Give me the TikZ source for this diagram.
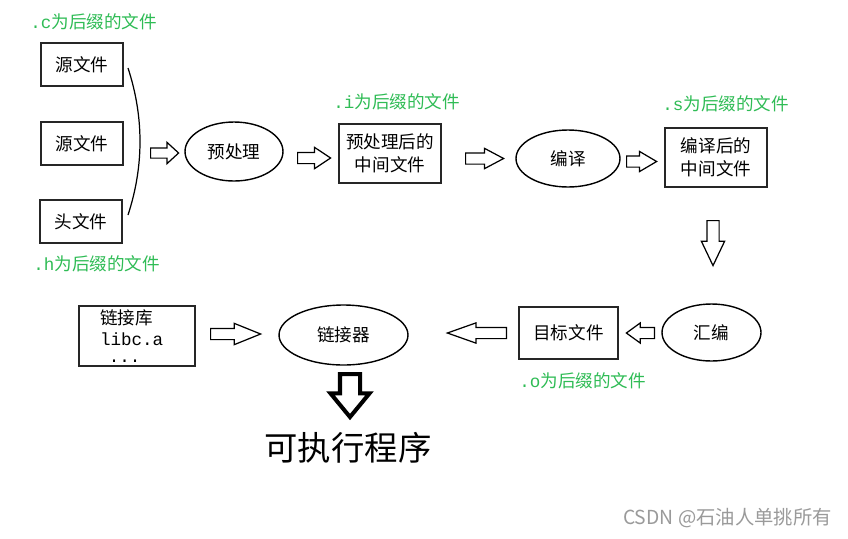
\documentclass[tikz,border=0pt]{standalone}
\usepackage{fontspec}
\setmainfont{Noto Sans CJK SC}
\setmonofont{Liberation Mono}
\usetikzlibrary{shapes.geometric,shapes.arrows,positioning,calc}
\definecolor{clrTag}{HTML}{2FBC55}
\definecolor{clrMark}{HTML}{9A9A9A}
\tikzset{
  filebox/.style={rectangle, draw=black!85, line width=1pt, align=center,
    inner sep=2pt, font=\fontsize{10}{13}\selectfont},
  stage/.style={ellipse, draw=black, line width=0.8pt, inner sep=0pt,
    font=\fontsize{10}{12}\selectfont},
  tag/.style={anchor=west, inner sep=0pt, text=clrTag,
    font=\fontsize{10}{12}\selectfont},
  hollow/.style={single arrow, draw=black, line width=0.7pt, fill=white,
    anchor=tail, inner xsep=0pt, single arrow head indent=0pt},
  vhollow/.style={hollow, shape border rotate=270, inner ysep=0pt},
}

\begin{document}
\begin{tikzpicture}[x=0.02cm, y=-0.02cm]
\useasboundingbox[fill=white] (0,0) rectangle (848,538);

% -- Quelldateien -----------------------------------------------------------
\node[filebox, minimum width=1.64cm, minimum height=0.86cm] (src1) at (82,64.5) {源文件};
\node[filebox, minimum width=1.64cm, minimum height=0.86cm] (src2) at (82,143.5) {源文件};
\node[filebox, minimum width=1.64cm, minimum height=0.86cm] (hdr) at (81,221.5) {头文件};
\node[tag] (tagC) at (30,22) {\texttt{.c}为后缀的文件};
\node[tag] (tagH) at (33,264) {\texttt{.h}为后缀的文件};

\coordinate (brTop) at (128,68);
\coordinate (brBot) at (128,215);
\draw[line width=0.7pt] (brTop) .. controls (144,117) and (144,166) .. (brBot);

% -- obere Reihe --------------------------------------------------------------
\node[stage, minimum width=1.96cm, minimum height=1.18cm] (pre) at (234,151.5) {预处理};
\node[filebox, minimum width=2.04cm, minimum height=1.18cm] (mid1) at (390,153.5)
  {预处理后的\\中间文件};
\node[tag] (tagI) at (333,102) {\texttt{.i}为后缀的文件};
\node[stage, minimum width=2.08cm, minimum height=1.14cm] (comp) at (568,158.5) {编译};
\node[filebox, minimum width=2.04cm, minimum height=1.18cm] (mid2) at (716,157.5)
  {编译后的\\中间文件};
\node[tag] (tagS) at (662,104) {\texttt{.s}为后缀的文件};

% -- untere Reihe -------------------------------------------------------------
\node[stage, minimum width=1.98cm, minimum height=1.14cm] (asm) at (711.5,332.5) {汇编};
\node[filebox, minimum width=1.98cm, minimum height=1.04cm] (obj) at (568.5,333) {目标文件};
\node[tag] (tagO) at (519,381) {\texttt{.o}为后缀的文件};
\node[stage, minimum width=2.58cm, minimum height=1.2cm] (link) at (343.5,335) {链接器};
\node[filebox, minimum width=2.32cm, minimum height=1.16cm, align=left,
  text width=1.48cm, inner xsep=0.42cm] (lib) at (137,336)
  {链接库\\[-1pt]\texttt{libc.a}\\[-3pt]\hspace*{5pt}\texttt{...}};
\node[font=\fontsize{19}{22}\selectfont, inner sep=0pt] (exe) at (348,448) {可执行程序};

% -- Blockpfeile: Name/x/y/Drehung/Laenge/Schaft/Kopfueberstand/Spitzenwinkel
\foreach \nm/\x/\y/\rot/\len/\sh/\ext/\ang in {
    a1/150/153/0/28/9/5.5/85,
    a2/297/158/0/33/10/5/67,
    a3/465/158.5/0/38/10/4.5/56,
    a4/626/161.5/0/30/10/4.5/61,
    a6/655/333/180/28/10/4.5/72,
    a7/507/333/180/59/10/4.5/39,
    a8/210/334/0/50/10/5/44}{
  \node[hollow, shape border rotate=\rot, minimum height=\len*0.02cm,
    inner ysep=\sh*0.01cm, single arrow head extend=\ext*0.02cm,
    single arrow tip angle=\ang] (\nm) at (\x,\y) {};
}
\node[vhollow, minimum height=0.9cm, inner xsep=0.11cm,
  single arrow head extend=0.11cm, single arrow tip angle=51] (a5) at (713,220) {};
\node[vhollow, line width=2.3pt, minimum height=0.86cm, inner xsep=0.16cm,
  single arrow head extend=0.19cm, single arrow tip angle=79] (a9) at (350,372) {};

\node[anchor=east, inner sep=0pt, text=clrMark, font=\fontsize{11}{13}\selectfont]
  (mark) at (832,518) {CSDN @石油人单挑所有};
\end{tikzpicture}
\end{document}
